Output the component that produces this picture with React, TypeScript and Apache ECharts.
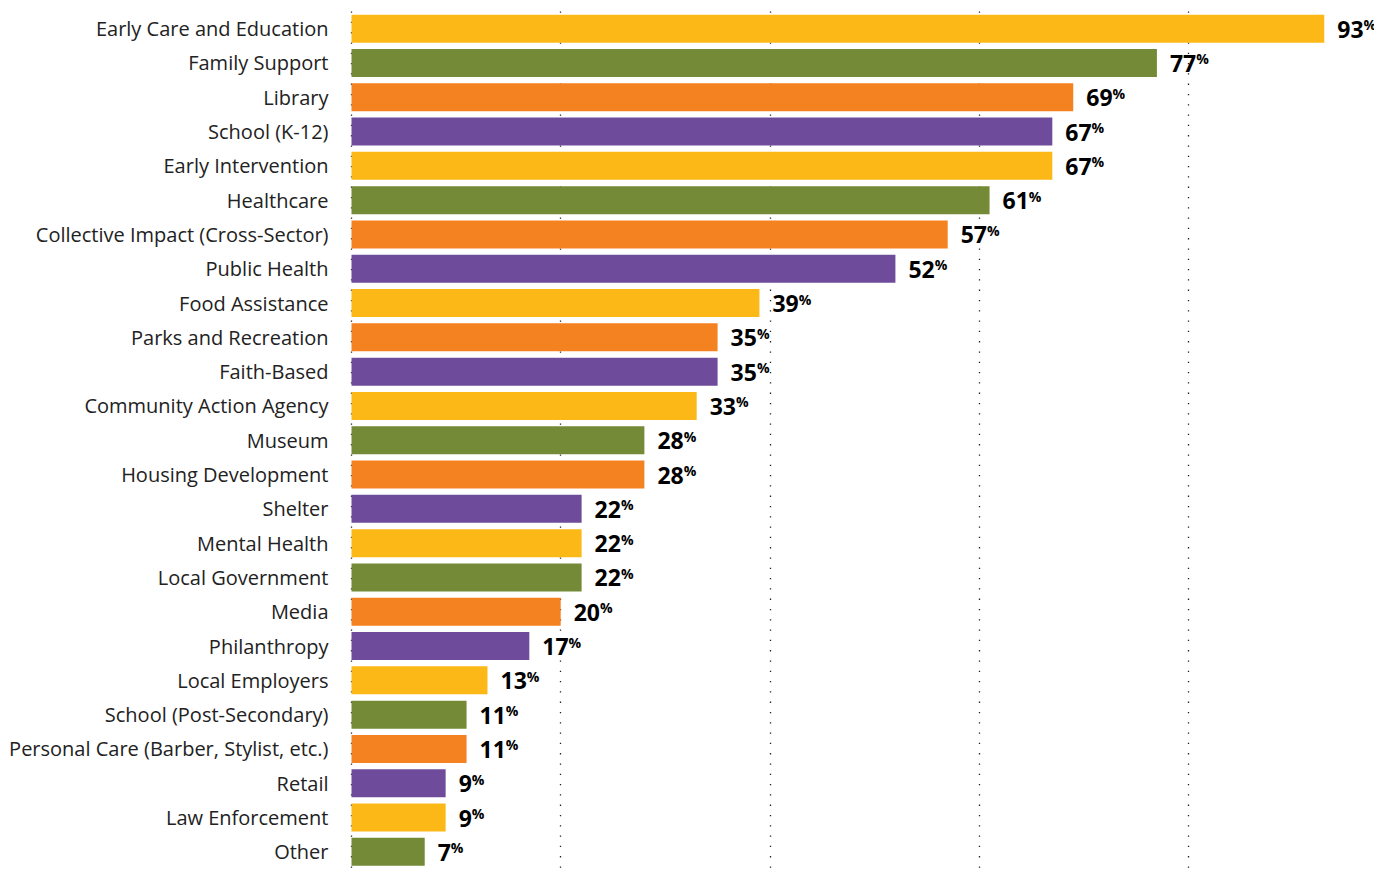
import React, { useEffect, useRef } from "react";
import * as echarts from "echarts";

const categories = [
  "Early Care and Education",
  "Family Support",
  "Library",
  "School (K-12)",
  "Early Intervention",
  "Healthcare",
  "Collective Impact (Cross-Sector)",
  "Public Health",
  "Food Assistance",
  "Parks and Recreation",
  "Faith-Based",
  "Community Action Agency",
  "Museum",
  "Housing Development",
  "Shelter",
  "Mental Health",
  "Local Government",
  "Media",
  "Philanthropy",
  "Local Employers",
  "School (Post-Secondary)",
  "Personal Care (Barber, Stylist, etc.)",
  "Retail",
  "Law Enforcement",
  "Other",
];

const values = [93, 77, 69, 67, 67, 61, 57, 52, 39, 35, 35, 33, 28, 28, 22, 22, 22, 20, 17, 13, 11, 11, 9, 9, 7];

const colorKeys = [
  "yellow", "green", "orange", "purple", "yellow", "green", "orange", "purple",
  "yellow", "orange", "purple", "yellow", "green", "orange", "purple", "yellow",
  "green", "orange", "purple", "yellow", "green", "orange", "purple", "yellow", "green",
];

const palette: Record<string, string> = {
  yellow: "#FBB817",
  green: "#758A36",
  orange: "#F58220",
  purple: "#6F4C9B",
};

export default function App() {
  const ref = useRef<HTMLDivElement>(null);
  useEffect(() => {
    if (!ref.current) return;
    const chart = echarts.init(ref.current, null, { renderer: "svg" });
    chart.setOption({
      animation: false,
      grid: { left: 351.5, top: 11.5, width: 1046, height: 857.5, containLabel: false },
      xAxis: {
        type: "value",
        min: 0,
        max: 100,
        interval: 20,
        axisLabel: { show: false },
        axisLine: { show: false },
        axisTick: { show: false },
        splitLine: {
          show: true,
          lineStyle: { color: "#222", width: 1.3, type: [1.3, 9] },
        },
      },
      yAxis: {
        type: "category",
        inverse: true,
        data: categories,
        axisLine: { show: false },
        axisTick: { show: false },
        axisLabel: {
          margin: 23,
          fontSize: 20,
          color: "#222",
          fontFamily: "Open Sans",
        },
      },
      series: [
        {
          type: "bar",
          barWidth: 28,
          data: values.map((v, i) => ({
            value: v,
            itemStyle: { color: palette[colorKeys[i]] },
          })),
          label: {
            show: true,
            position: "right",
            distance: 13,
            formatter: (p: any) => `{n|${p.value}}{p|%}`,
            rich: {
              n: { fontSize: 23, fontWeight: "bold", color: "#000", fontFamily: "Open Sans" },
              p: { fontSize: 14, fontWeight: "bold", color: "#000", fontFamily: "Open Sans", padding: [0, 0, 8, 0] },
            },
          },
        },
      ],
    });
    return () => chart.dispose();
  }, []);
  return (
    <div style={{ position: "absolute", left: 0, top: 0, width: 1374, height: 869, overflow: "hidden" }}>
      <div ref={ref} style={{ width: 1420, height: 869 }} />
    </div>
  );
}
